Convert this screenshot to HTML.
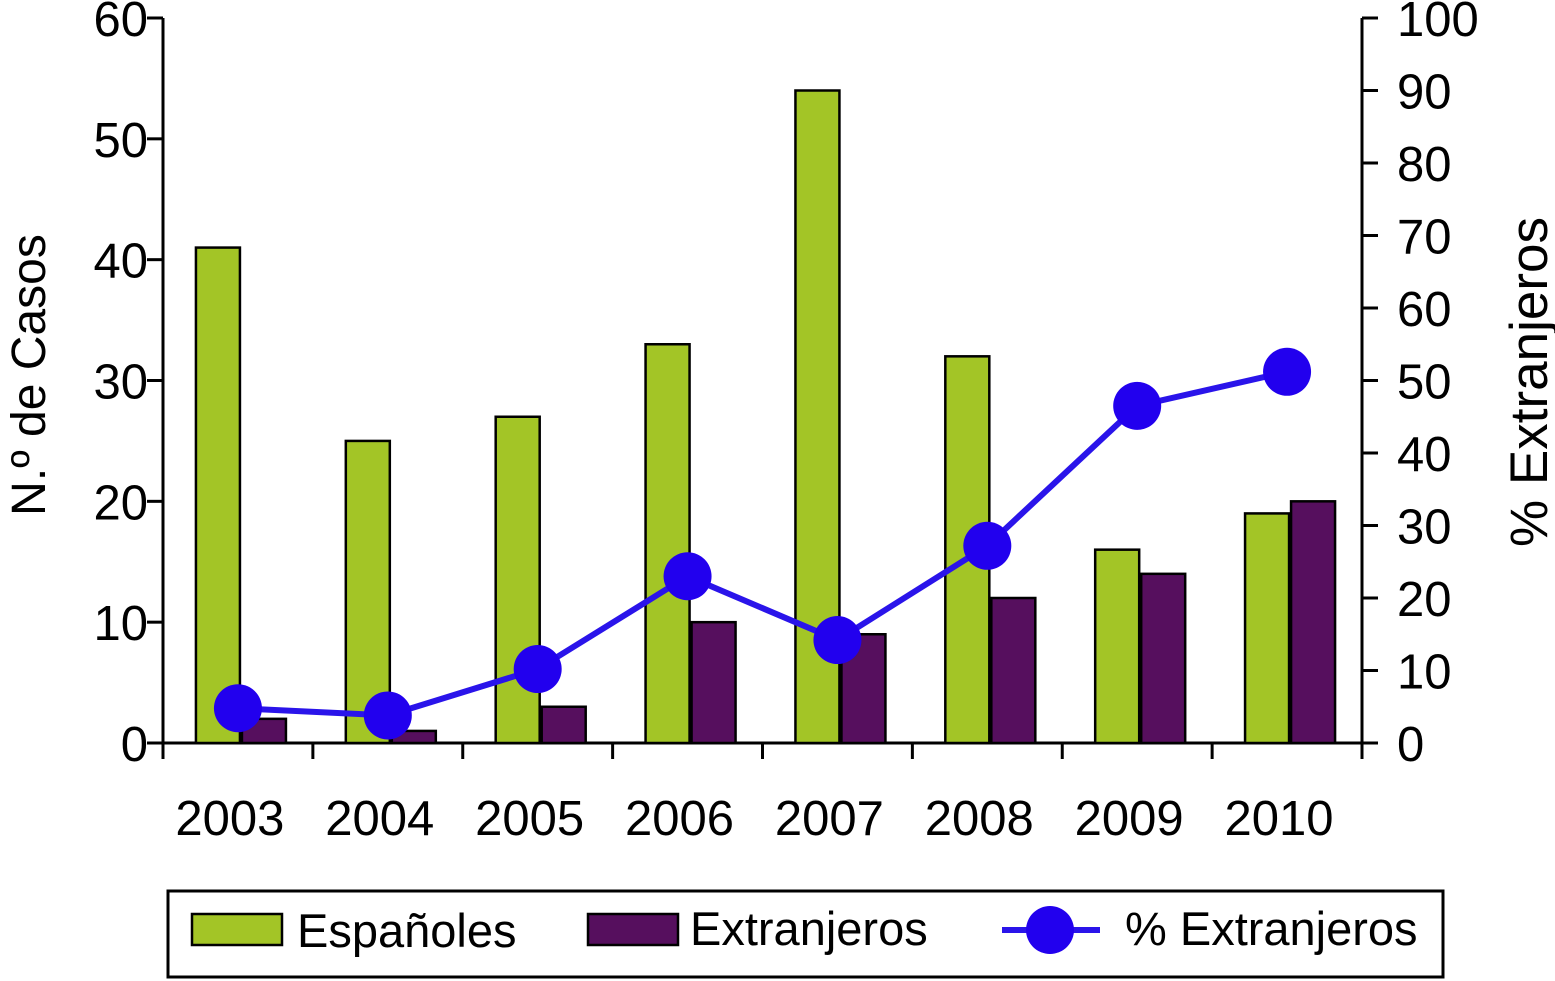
<!DOCTYPE html>
<html><head><meta charset="utf-8"><style>
html,body{margin:0;padding:0;background:#fff;}
svg{display:block;font-family:"Liberation Sans",sans-serif;}
</style></head><body>
<svg id="chart" width="1555" height="981" viewBox="0 0 1555 981">
<g id="axes"></g><g id="bars"></g><g id="line"></g>
<g>
<rect x="168" y="891" width="1275" height="86" fill="#fff" stroke="#000" stroke-width="3"/>
<rect x="192" y="914" width="90" height="31" fill="#a3c526" stroke="#000" stroke-width="2.5"/>
<text x="297" y="947" font-size="47">Españoles</text>
<rect x="588" y="914" width="90" height="31" fill="#560f5e" stroke="#000" stroke-width="2.5"/>
<text x="690" y="945" font-size="47">Extranjeros</text>
<line x1="1002" y1="930" x2="1100" y2="930" stroke="#2a14ea" stroke-width="6"/>
<circle cx="1050" cy="930" r="24" fill="#2200ee"/>
<text x="1125" y="945" font-size="47">% Extranjeros</text>
</g>
</svg>
<script>
const categories=["2003","2004","2005","2006","2007","2008","2009","2010"];
const espanoles=[41,25,27,33,54,32,16,19];
const extranjeros=[2,1,3,10,9,12,14,20];
const pctExtranjeros=[4.8,3.8,10.2,23,14.2,27.2,46.5,51.2];
const leftTicks=[0,10,20,30,40,50,60];
const rightTicks=[0,10,20,30,40,50,60,70,80,90,100];
const NS="http://www.w3.org/2000/svg";
const X0=163,X1=1362,Y0=743,Y1=18;
const catW=(X1-X0)/categories.length;
const yL=v=>Y0-(v/60)*(Y0-Y1);
const yR=v=>Y0-(v/100)*(Y0-Y1);
const xC=i=>X0+catW*(i+0.5);
function mk(tag,attrs,parent){const e=document.createElementNS(NS,tag);for(const k in attrs)e.setAttribute(k,attrs[k]);document.getElementById(parent).appendChild(e);return e;}
let e;
e=mk('line',{x1:X0,y1:Y1,x2:X0,y2:Y0,stroke:'#000','stroke-width':3},'axes');


e=mk('line',{x1:X1,y1:Y1,x2:X1,y2:Y0,stroke:'#000','stroke-width':3},'axes');


e=mk('line',{x1:X0-14,y1:Y0,x2:X1+14,y2:Y0,stroke:'#000','stroke-width':3},'axes');


leftTicks.forEach(v=>{
 const y=yL(v);
 e=mk('line',{x1:X0-16,y1:y,x2:X0,y2:y,stroke:'#000','stroke-width':3},'axes');
 
 
 e=mk('text',{x:X0-15,y:y+18,'font-size':49,'text-anchor':'end'},'axes');e.textContent=v;
 
 
});
rightTicks.forEach(v=>{
 const y=yR(v);
 e=mk('line',{x1:X1,y1:y,x2:X1+16,y2:y,stroke:'#000','stroke-width':3},'axes');
 
 
 e=mk('text',{x:X1+35,y:y+18,'font-size':49},'axes');e.textContent=v;
 
 
});
for(let i=0;i<=categories.length;i++){
 const x=X0+catW*i;
 e=mk('line',{x1:x,y1:Y0,x2:x,y2:Y0+16,stroke:'#000','stroke-width':3},'axes');
 
 
}
categories.forEach((c,i)=>{
 e=mk('text',{x:xC(i)-8,y:835,'font-size':49,'text-anchor':'middle'},'axes');e.textContent=c;
 
 
});
e=mk('text',{x:0,y:0,'font-size':48,'text-anchor':'middle',transform:'translate(45,375) rotate(-90)'},'axes');e.textContent='N.º de Casos';


e=mk('text',{x:0,y:0,'font-size':53,'text-anchor':'middle',transform:'translate(1547,382) rotate(-90)'},'axes');e.textContent='% Extranjeros';


const bw=44;
categories.forEach((c,i)=>{
 const cx=xC(i)+3;
 e=mk('rect',{x:cx-bw-1,y:yL(espanoles[i]),width:bw,height:Y0-yL(espanoles[i]),fill:'#a3c526',stroke:'#000','stroke-width':2.5},'bars');
 
 
 e=mk('rect',{x:cx+1,y:yL(extranjeros[i]),width:bw,height:Y0-yL(extranjeros[i]),fill:'#560f5e',stroke:'#000','stroke-width':2.5},'bars');
 
 
});
e=mk('polyline',{points:pctExtranjeros.map((v,i)=>xC(i)+','+yR(v)).join(' '),fill:'none',stroke:'#2a14ea','stroke-width':6},'line');


pctExtranjeros.forEach((v,i)=>{
 e=mk('circle',{cx:xC(i),cy:yR(v),r:24,fill:'#2200ee'},'line');
 
 
});
</script>
</body></html>
